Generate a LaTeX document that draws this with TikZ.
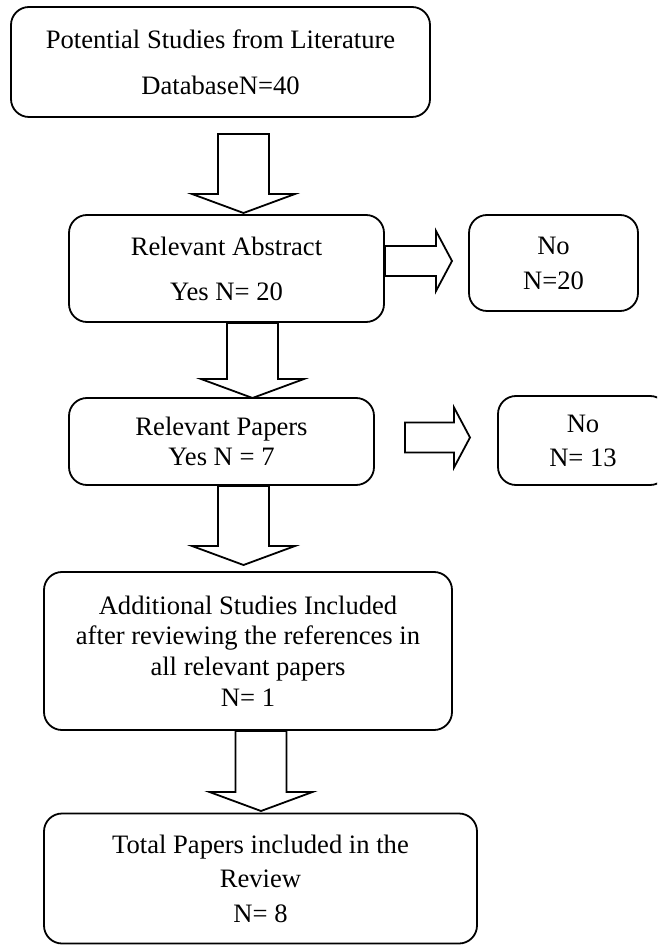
\documentclass[tikz,border=0pt]{standalone}
\usepackage{fontspec}
\setmainfont{Liberation Serif}
\usetikzlibrary{positioning,calc}

\newcommand{\downblock}[2]{%
	\draw[blockarrow] ($(#1)+(-25.5,0)$) -- ($(#2)+(-25.5,-19)$) -- ($(#2)+(-51.5,-19)$) -- (#2)
		-- ($(#2)+(51.5,-19)$) -- ($(#2)+(25.5,-19)$) -- ($(#1)+(25.5,0)$) -- cycle;}
\newcommand{\rightblock}[2]{%
	\draw[blockarrow] ($(#1)+(0,-15)$) -- ($(#2)+(-16,-15)$) -- ($(#2)+(-16,-30)$) -- (#2)
		-- ($(#2)+(-16,30)$) -- ($(#2)+(-16,15)$) -- ($(#1)+(0,15)$) -- cycle;}

\begin{document}
\begin{tikzpicture}[x=0.5pt,y=-0.5pt]
		\tikzset{box/.style = {draw, rounded corners=9pt, align=center, line width=0.9pt,
			font=\fontsize{13.3}{15.3}\selectfont, inner sep=2pt}}
		\tikzset{blockarrow/.style = {draw, line width=0.9pt, line join=miter}}

		\useasboundingbox (0,0) rectangle (657,945);
		\clip (0,0) rectangle (657,945);

		% boxes
		\node[box, minimum width=209.5pt, minimum height=55pt] (pot) at (220.5,62)
			{Potential Studies from Literature\\[7.7pt]DatabaseN=40};
		\node[box, minimum width=157.5pt, minimum height=53.5pt] (abs) at (226.5,268.5)
			{Relevant Abstract\\[7.2pt]Yes N= 20};
		\node[box, minimum width=84.5pt, minimum height=48pt] (noabs) at (553.5,263)
			{No\\[2.2pt]N=20};
		\node[box, minimum width=152.5pt, minimum height=43.5pt] (pap) at (221.5,441.5)
			{Relevant Papers\\Yes N = 7};
		\node[box, minimum width=85pt, minimum height=44.5pt] (nopap) at (583,440.5)
			{No\\[1.7pt]N= 13};
		\node[box, minimum width=204pt, minimum height=79pt] (add) at (248,651)
			{Additional Studies Included\\after reviewing the references in\\all relevant papers\\N= 1};
		\node[box, minimum width=216.5pt, minimum height=65pt] (tot) at (260.5,878.5)
			{Total Papers included in the\\[2pt]Review\\[2pt]N= 8};

		% arrow ends
		\coordinate (a1s) at (243.5,134);
		\coordinate (a1e) at (243.5,213);
		\coordinate (a2e) at (252.5,398);
		\coordinate (a2s) at (abs.south -| a2e);
		\coordinate (a3e) at (243.5,565);
		\coordinate (a3s) at (pap.south -| a3e);
		\coordinate (a4e) at (261,811);
		\coordinate (a4s) at (add.south -| a4e);
		\coordinate (r1e) at (452,261);
		\coordinate (r1s) at (abs.east |- r1e);
		\coordinate (r2s) at (405,437.5);
		\coordinate (r2e) at (470,437.5);

		% down arrows
		\downblock{a1s}{a1e}
		\downblock{a2s}{a2e}
		\downblock{a3s}{a3e}
		\downblock{a4s}{a4e}

		% side arrows
		\rightblock{r1s}{r1e}
		\rightblock{r2s}{r2e}
	\end{tikzpicture}
\end{document}
